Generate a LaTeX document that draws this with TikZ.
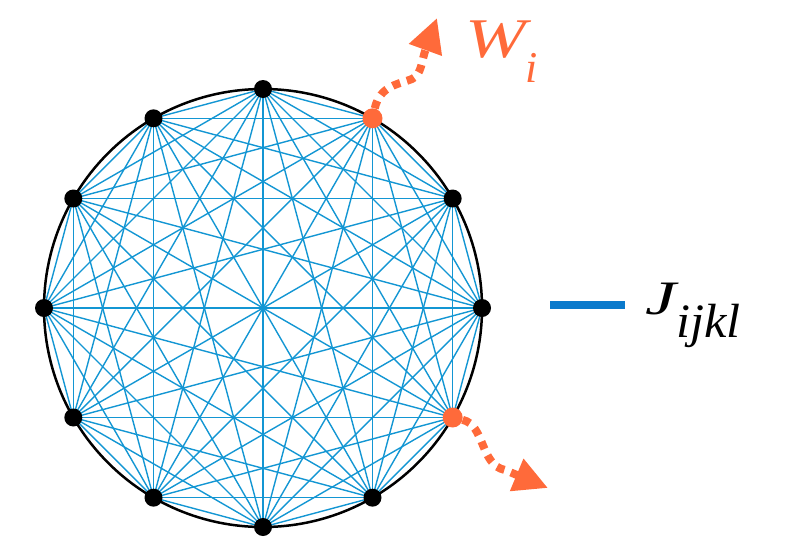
\documentclass[tikz,border=0pt]{standalone}
\usepackage{fontspec}
\setmainfont{Liberation Serif}
\usetikzlibrary{arrows.meta,calc,backgrounds}
\definecolor{edgeblue}{HTML}{1396D3}
\definecolor{legblue}{HTML}{0A7ACC}
\definecolor{wor}{HTML}{FF6A3A}
\begin{document}
\begin{tikzpicture}[x=1pt,y=-1pt,
  vtx/.style={circle,fill=black,inner sep=0pt,minimum size=18pt},
  ovtx/.style={circle,fill=wor,inner sep=0pt,minimum size=20pt},
  edge/.style={edgeblue,line width=1.4pt},
  flow/.style={wor,line width=8pt,dash pattern=on 8pt off 7pt,-{Triangle[length=34pt,width=33pt]}},
  lbl/.style={anchor=base west,inner sep=0pt,font=\itshape}]
\useasboundingbox (0,0) rectangle (791,549);
\coordinate (c) at (263,308);
\foreach \k in {0,...,11}{
  \ifnum\k=1 \node[ovtx] (p\k) at ($(c)+(\k*30:219)$) {};
  \else\ifnum\k=10 \node[ovtx] (p\k) at ($(c)+(\k*30:219)$) {};
  \else \node[vtx] (p\k) at ($(c)+(\k*30:219)$) {};
  \fi\fi}
\begin{pgfonlayer}{background}
\foreach \i in {0,...,11}{\foreach \j in {0,...,11}{\ifnum\i<\j \draw[edge] (p\i.center) -- (p\j.center);\fi}}
\draw[black,line width=2.5pt] (c) circle (219);
\end{pgfonlayer}
\draw[flow] (p10) .. controls (380,85) and (400,84) .. (412,79) .. controls (422,74) and (421,62) .. (437,18);
\draw[flow] (p1) .. controls (485,425) and (480,465) .. (505,470) -- (548,488);
\node[lbl,text=wor] (wl) at (465,57) {\scalebox{1.3}[1]{\fontsize{56}{56}\selectfont W}\kern0pt\raisebox{-25pt}{\fontsize{44}{44}\selectfont i}};
\coordinate (l1) at (550,305);
\coordinate (l2) at (625,305);
\draw[legblue,line width=7.5pt] (l1) -- (l2);
\node[lbl] (jl) at (645,314) {\scalebox{1.45}[1]{\fontsize{48}{48}\selectfont J}\raisebox{-23pt}{\scalebox{1.05}[1]{\fontsize{48}{48}\selectfont ijkl}}};
\end{tikzpicture}
\end{document}
